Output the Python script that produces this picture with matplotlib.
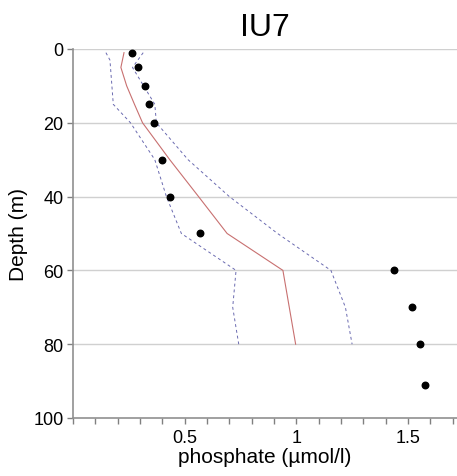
import matplotlib.pyplot as plt
from matplotlib.ticker import MultipleLocator

plt.rcParams['font.family'] = ['Liberation Sans', 'DejaVu Sans']

# observed phosphate
obs_depth = [1, 5, 10, 15, 20, 30, 40, 50, 60, 70, 80, 91]
obs_po4 = [0.265, 0.29, 0.32, 0.34, 0.363, 0.396, 0.436, 0.567, 1.437, 1.52, 1.552, 1.575]

# climatology median
med_depth = [1, 5, 10, 15, 20, 30, 40, 50, 60, 80]
med_po4 = [0.228, 0.214, 0.24, 0.275, 0.311, 0.433, 0.562, 0.69, 0.94, 0.997]

# lower / upper percentiles
lo_depth = [1, 3, 15, 20, 30, 40, 50, 60, 70, 80]
lo_po4 = [0.147, 0.165, 0.18, 0.257, 0.366, 0.418, 0.485, 0.73, 0.715, 0.742]
hi_depth = [1, 5, 15, 20, 30, 40, 50, 60, 70, 80]
hi_po4 = [0.314, 0.266, 0.366, 0.373, 0.515, 0.70, 0.916, 1.155, 1.22, 1.25]

fig = plt.figure(figsize=(4.57, 4.77), dpi=100)
ax = fig.add_axes([0.16, 0.1216, 0.84, 0.7736])

for d in [0, 20, 40, 60, 80]:
    ax.axhline(d, color='#d0d0d0', lw=1, zorder=0)

ax.plot(lo_po4, lo_depth, color='#6a6ab0', lw=0.7, ls=(0, (3, 3)))
ax.plot(hi_po4, hi_depth, color='#6a6ab0', lw=0.7, ls=(0, (3, 3)))
ax.plot(med_po4, med_depth, color='#c87070', lw=0.8)
ax.scatter(obs_po4, obs_depth, s=22, color='black', zorder=3)

ax.set_xlim(0, 1.72)
ax.set_ylim(100, 0)
ax.set_yticks([0, 20, 40, 60, 80, 100])
ax.set_xticks([0.5, 1, 1.5])
ax.set_xticklabels(['0.5', '1', '1.5'])
ax.xaxis.set_minor_locator(MultipleLocator(0.1))
ax.tick_params(axis='both', which='both', direction='out', length=4, width=1,
               color='#808080', labelsize=13, pad=3)
ax.tick_params(axis='x', which='major', pad=4)

for s in ['top', 'right']:
    ax.spines[s].set_visible(False)
for s in ['left', 'bottom']:
    ax.spines[s].set_color('#909090')
    ax.spines[s].set_linewidth(1.2)

ax.set_xlabel('phosphate (µmol/l)', fontsize=15, labelpad=1)
ax.set_ylabel('Depth (m)', fontsize=15, labelpad=4)
ax.set_title('IU7', fontsize=23, pad=10)

fig.savefig('out.png', dpi=100)
